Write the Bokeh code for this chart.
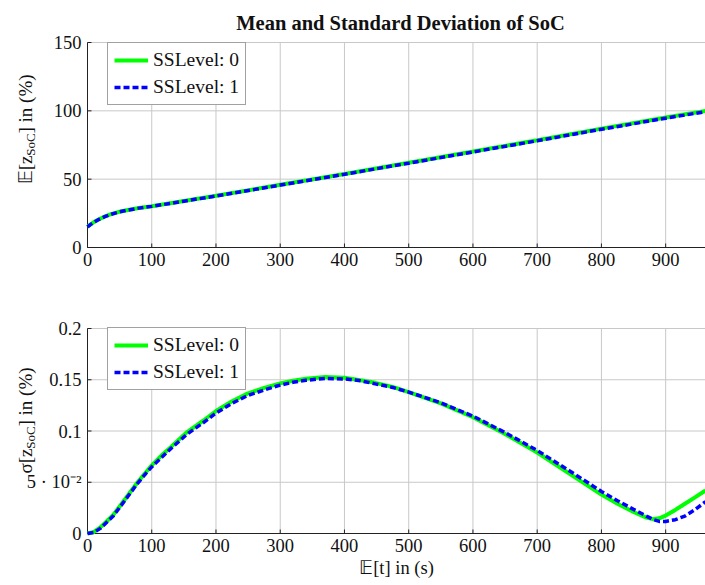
import math
from bokeh.plotting import figure
from bokeh.layouts import column
from bokeh.models import Label, Legend, LegendItem, Range1d
from bokeh.core.properties import value
from bokeh.embed import file_html
from bokeh.resources import INLINE

# ---------------- data ----------------
title_text = "Mean and Standard Deviation of SoC"
series_labels = ["SSLevel: 0", "SSLevel: 1"]
x_label = "𝔼[t] in (s)"

t_mean = [0, 5, 10, 18, 27, 37, 50, 61, 80, 100, 150, 200, 300, 400, 500, 600, 700, 800, 900, 962]
soc_mean_0 = [15.1, 17.0, 18.6, 20.7, 22.7, 24.4, 26.2, 27.3, 28.9, 30.2, 34.0, 37.8, 45.9, 53.8, 62.0, 70.2, 78.5, 87.0, 95.1, 100.0]
soc_mean_1 = [15.0, 16.9, 18.5, 20.6, 22.6, 24.3, 26.1, 27.2, 28.8, 30.1, 33.9, 37.7, 45.7, 53.6, 61.7, 69.9, 78.1, 86.5, 94.6, 99.4]

t_std = [0, 10, 20, 30, 40, 52, 65, 78, 90, 100, 115, 130, 155, 180, 200, 225, 249, 275, 300, 320,
         340, 370, 400, 425, 448, 475, 500, 550, 600, 650, 700, 750, 800, 825, 850, 870, 880, 890,
         900, 915, 930, 945, 962]
soc_std_0 = [0.0, 0.0015, 0.006, 0.012, 0.018, 0.028, 0.039, 0.050, 0.059, 0.0665, 0.076, 0.0845, 0.099,
             0.110, 0.1195, 0.129, 0.1365, 0.142, 0.1465, 0.149, 0.151, 0.1527, 0.152, 0.1495, 0.147,
             0.143, 0.138, 0.127, 0.1135, 0.097, 0.079, 0.0585, 0.038, 0.029, 0.021, 0.0155, 0.014,
             0.0148, 0.0175, 0.023, 0.029, 0.035, 0.042]
soc_std_1 = [0.0, 0.001, 0.005, 0.011, 0.017, 0.027, 0.038, 0.049, 0.058, 0.065, 0.074, 0.083, 0.097,
             0.108, 0.1175, 0.127, 0.1345, 0.140, 0.1448, 0.1475, 0.1495, 0.1512, 0.1508, 0.149, 0.146,
             0.1425, 0.138, 0.1275, 0.1145, 0.0985, 0.081, 0.0612, 0.041, 0.032, 0.0235, 0.017, 0.0138,
             0.0118, 0.0118, 0.0135, 0.017, 0.023, 0.031]

x_ticks = [0, 100, 200, 300, 400, 500, 600, 700, 800, 900]
x_tick_labels = ["0", "100", "200", "300", "400", "500", "600", "700", "800", "900"]
mean_ticks = [0, 50, 100, 150]
mean_tick_labels = ["0", "50", "100", "150"]
std_ticks = [0, 0.05, 0.1, 0.15, 0.2]
std_tick_labels = ["0", "5 · 10⁻²", "0.1", "0.15", "0.2"]

X_END = 962
MEAN_END = 150
STD_END = 0.2

# ---------------- layout constants (pixels) ----------------
W = 705
LEFT = 87            # pixel column of t = 0
FRAME_H = 205        # pixel height of the data area
TOP_H = 287
BOT_H = 585 - TOP_H
FONT = "Liberation Serif"
GREEN = "#00ff00"
BLUE = "#0000ff"
AXIS_COLOR = "#222222"
GRID_COLOR = "#c8c8c8"
TEXT_COLOR = "#111111"
X_START = -LEFT * X_END / (W - LEFT)


def make_fig(height, area_top, y_end, yticks, ylabels):
    """The frame covers the whole canvas; the data area starts at area_top px."""
    area_bottom = area_top + FRAME_H
    per_px = y_end / FRAME_H
    y_range = Range1d(-(height - area_bottom) * per_px, y_end + area_top * per_px)
    p = figure(width=W, height=height, x_range=Range1d(X_START, X_END), y_range=y_range,
               output_backend="svg", toolbar_location=None,
               x_axis_location=None, y_axis_location=None,
               min_border_left=0, min_border_right=0, min_border_top=0, min_border_bottom=0)
    p.outline_line_color = None
    p.background_fill_color = "white"
    p.border_fill_color = "white"
    p.grid.visible = False
    nx, ny = len(x_ticks), len(yticks)
    # grid
    p.segment(x0=x_ticks, x1=x_ticks, y0=[0] * nx, y1=[y_end] * nx, line_color=GRID_COLOR, line_width=1)
    p.segment(x0=[0] * ny, x1=[X_END] * ny, y0=yticks, y1=yticks, line_color=GRID_COLOR, line_width=1)
    # axis lines
    p.segment(x0=[0, 0], x1=[X_END, 0], y0=[0, 0], y1=[0, y_end], line_color=AXIS_COLOR, line_width=1)
    # inward ticks
    p.ray(x=x_ticks, y=[0] * nx, length=4, length_units="screen", angle=math.pi / 2,
          line_color=AXIS_COLOR, line_width=1)
    p.ray(x=[0] * ny, y=yticks, length=4, length_units="screen", angle=0,
          line_color=AXIS_COLOR, line_width=1)
    # tick labels
    p.text(x=[0] * ny, y=yticks, text=ylabels, x_offset=-6, text_align="right", text_baseline="middle",
           text_font=value(FONT), text_font_size="18.5px", text_color=TEXT_COLOR)
    p.text(x=x_ticks, y=[0] * nx, text=x_tick_labels, y_offset=5, text_align="center", text_baseline="top",
           text_font=value(FONT), text_font_size="18.5px", text_color=TEXT_COLOR)
    return p


def add_lines(p, t, y0, y1, legend_top, height):
    r0 = p.line(t, y0, line_color=GREEN, line_width=4)
    r1 = p.line(t, y1, line_color=BLUE, line_width=3.5, line_dash="6 3")
    leg = Legend(items=[LegendItem(label=series_labels[0], renderers=[r0]),
                        LegendItem(label=series_labels[1], renderers=[r1])])
    leg.location = (LEFT + 20, height - legend_top - 57)
    leg.padding = 6
    leg.spacing = 5
    leg.label_height = 20
    leg.glyph_height = 20
    leg.glyph_width = 34
    leg.label_standoff = 5
    leg.margin = 0
    leg.label_text_font = FONT
    leg.label_text_font_size = "19.5px"
    leg.label_text_color = TEXT_COLOR
    leg.border_line_color = "#444444"
    leg.border_line_width = 1
    leg.background_fill_alpha = 1
    p.add_layout(leg, "center")


def screen_label(p, height, text, px, py, size, align="center", baseline="alphabetic",
                 angle=0.0, bold=False):
    # screen units: from the frame's bottom-left corner, which is the canvas corner here
    p.add_layout(Label(x=px, y=height - py, x_units="screen", y_units="screen",
                       text=text, angle=angle, text_align=align, text_baseline=baseline,
                       text_font=FONT, text_font_size=size, text_color=TEXT_COLOR,
                       text_font_style="bold" if bold else "normal"))


VERT = math.pi / 2

# ---------------- top panel ----------------
p1 = make_fig(TOP_H, 42, MEAN_END, mean_ticks, mean_tick_labels)
add_lines(p1, t_mean, soc_mean_0, soc_mean_1, 48, TOP_H)
screen_label(p1, TOP_H, title_text, 400, 22, "20.5px", baseline="middle", bold=True)
screen_label(p1, TOP_H, "𝔼[z", 25, 155, "19px", align="right", angle=VERT)
screen_label(p1, TOP_H, "SoC", 30, 144, "13px", angle=VERT)
screen_label(p1, TOP_H, "] in (%)", 25, 133, "19px", align="left", angle=VERT)

# ---------------- bottom panel ----------------
p2 = make_fig(BOT_H, 328 - TOP_H, STD_END, std_ticks, std_tick_labels)
add_lines(p2, t_std, soc_std_0, soc_std_1, 333 - TOP_H, BOT_H)
screen_label(p2, BOT_H, x_label, 396, 567 - TOP_H, "18.5px", baseline="middle")
screen_label(p2, BOT_H, "σ[z", 25, 448 - TOP_H, "19px", align="right", angle=VERT)
screen_label(p2, BOT_H, "SoC", 30, 437 - TOP_H, "13px", angle=VERT)
screen_label(p2, BOT_H, "] in (%)", 25, 426 - TOP_H, "19px", align="left", angle=VERT)

layout = column(p1, p2)
open("out.html", "w").write(file_html(layout, INLINE))
